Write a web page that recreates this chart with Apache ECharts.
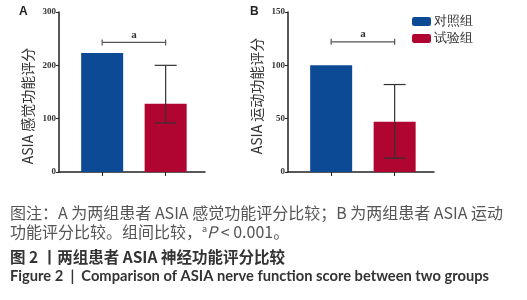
<!DOCTYPE html>
<html>
<head>
<meta charset="utf-8">
<script src="https://cdn.jsdelivr.net/npm/echarts@6/dist/echarts.min.js"></script>
<style>
  html, body { margin: 0; padding: 0; background: #fff; }
  #chart { width: 527px; height: 300px; }
</style>
</head>
<body>
<div id="chart"></div>
<script>
// groups and values
var groups = ['对照组', '试验组'];
var groupPos = [1, 2];

var sensoryMean = [223, 128];
var sensoryErr = [[2, 92, 200]]; // [pos, low, high]
var sensorySig = [[1, 2, 243]];
var sensoryTicks = [0, 100, 200, 300];

var motorMean = [100, 47];
var motorErr = [[2, 13, 82]];
var motorSig = [[1, 2, 122]];
var motorTicks = [0, 50, 100, 150];

var colors = ['#0d4a96', '#b00530'];

var myChart = echarts.init(document.getElementById('chart'));

function errorBar(params, api) {
  var x = api.value(0);
  var lo = api.coord([x, api.value(1)]);
  var hi = api.coord([x, api.value(2)]);
  var half = 11;
  var style = {stroke: '#333', lineWidth: 1.2};
  return {
    type: 'group',
    children: [
      {type: 'line', shape: {x1: lo[0], y1: lo[1], x2: hi[0], y2: hi[1]}, style: style},
      {type: 'line', shape: {x1: hi[0] - half, y1: hi[1], x2: hi[0] + half, y2: hi[1]}, style: style},
      {type: 'line', shape: {x1: lo[0] - half, y1: lo[1], x2: lo[0] + half, y2: lo[1]}, style: style}
    ]
  };
}

function sigBracket(params, api) {
  var a = api.coord([api.value(0), api.value(2)]);
  var b = api.coord([api.value(1), api.value(2)]);
  var style = {stroke: '#555', lineWidth: 1.2};
  return {
    type: 'group',
    children: [
      {type: 'line', shape: {x1: a[0], y1: a[1], x2: b[0], y2: b[1]}, style: style},
      {type: 'line', shape: {x1: a[0], y1: a[1] - 3, x2: a[0], y2: a[1] + 3}, style: style},
      {type: 'line', shape: {x1: b[0], y1: b[1] - 3, x2: b[0], y2: b[1] + 3}, style: style},
      {type: 'text', x: (a[0] + b[0]) / 2, y: a[1] - 2,
        style: {text: 'a', fill: '#333', font: 'bold 11px "Liberation Serif"', align: 'center', verticalAlign: 'bottom'}}
    ]
  };
}

function xAxisOf(idx) {
  return {
    gridIndex: idx, type: 'value', min: 0.32, max: 2.62,
    splitLine: {show: false},
    axisLine: {lineStyle: {color: '#222', width: 1.5}},
    axisTick: {show: true, customValues: groupPos, inside: false, length: 4, lineStyle: {color: '#222'}},
    axisLabel: {show: false}
  };
}

function yAxisOf(idx, ticks) {
  return {
    gridIndex: idx, type: 'value', min: ticks[0], max: ticks[ticks.length - 1],
    interval: ticks[1] - ticks[0],
    splitLine: {show: false},
    axisLine: {show: true, lineStyle: {color: '#222', width: 1.5}},
    axisTick: {show: true, length: 3, lineStyle: {color: '#222'}},
    axisLabel: {color: '#333', fontFamily: 'Liberation Serif', fontWeight: 'bold', fontSize: 9, margin: 3}
  };
}

function barSeries(idx, vals) {
  return groups.map(function (g, i) {
    return {
      name: g, type: 'bar', xAxisIndex: idx, yAxisIndex: idx,
      barWidth: 42, barGap: '-100%',
      itemStyle: {color: colors[i]},
      data: [[groupPos[i], vals[i]]]
    };
  });
}

var captionStyle = {fontSize: 16, color: '#555', fontWeight: 'normal', fontFamily: 'Noto Sans CJK SC'};

myChart.setOption({
  animation: false,
  grid: [
    {left: 59, top: 12, width: 146, height: 160},
    {left: 288, top: 12, width: 146, height: 160}
  ],
  xAxis: [xAxisOf(0), xAxisOf(1)],
  yAxis: [yAxisOf(0, sensoryTicks), yAxisOf(1, motorTicks)],
  legend: {
    orient: 'vertical', left: 407, top: 10, itemWidth: 19, itemHeight: 9, itemGap: 4,
    data: groups,
    textStyle: {color: '#333', fontSize: 12.5, padding: [0, 0, 0, -2]}
  },
  series: barSeries(0, sensoryMean).concat(barSeries(1, motorMean)).concat([
    {type: 'custom', xAxisIndex: 0, yAxisIndex: 0, renderItem: errorBar, data: sensoryErr, z: 5},
    {type: 'custom', xAxisIndex: 1, yAxisIndex: 1, renderItem: errorBar, data: motorErr, z: 5},
    {type: 'custom', xAxisIndex: 0, yAxisIndex: 0, renderItem: sigBracket, data: sensorySig, z: 5},
    {type: 'custom', xAxisIndex: 1, yAxisIndex: 1, renderItem: sigBracket, data: motorSig, z: 5}
  ]),
  graphic: [
    {type: 'text', x: 19, y: 6, style: {text: 'A', font: 'bold 12px "Liberation Sans"', fill: '#222'}},
    {type: 'text', x: 250, y: 6, style: {text: 'B', font: 'bold 12px "Liberation Sans"', fill: '#222'}},
    {type: 'text', x: 28, y: 106, rotation: Math.PI / 2,
      style: {text: 'ASIA 感觉功能评分', font: '14px "Noto Sans CJK SC"', fill: '#333', align: 'center', verticalAlign: 'middle'}},
    {type: 'text', x: 257, y: 96, rotation: Math.PI / 2,
      style: {text: 'ASIA 运动功能评分', font: '14px "Noto Sans CJK SC"', fill: '#333', align: 'center', verticalAlign: 'middle'}}
  ],
  title: [
    {left: 10, top: 205, text: '图注：A 为两组患者 ASIA 感觉功能评分比较；B 为两组患者 ASIA 运动', padding: 0,
      textStyle: captionStyle},
    {left: 10, top: 224, text: '功能评分比较。组间比较，{s|a}{i|P} < 0.001。', padding: 0,
      textStyle: Object.assign({}, captionStyle, {rich: {
        s: {fontSize: 9, color: '#555', verticalAlign: 'top', padding: [0, 0, 7, 0]},
        i: {fontStyle: 'italic', fontSize: 16, color: '#555'}
      }})},
    {left: 10, top: 249, text: '图 2 丨两组患者 ASIA 神经功能评分比较', padding: 0,
      textStyle: {fontSize: 15.5, color: '#333', fontWeight: 'bold', fontFamily: 'Noto Sans CJK SC'}},
    {left: 10, top: 269, text: 'Figure 2  |  Comparison of ASIA nerve function score between two groups', padding: 0,
      textStyle: {fontSize: 14.7, color: '#333', fontWeight: 'bold', fontFamily: 'Lato'}}
  ]
});
</script>
</body>
</html>
